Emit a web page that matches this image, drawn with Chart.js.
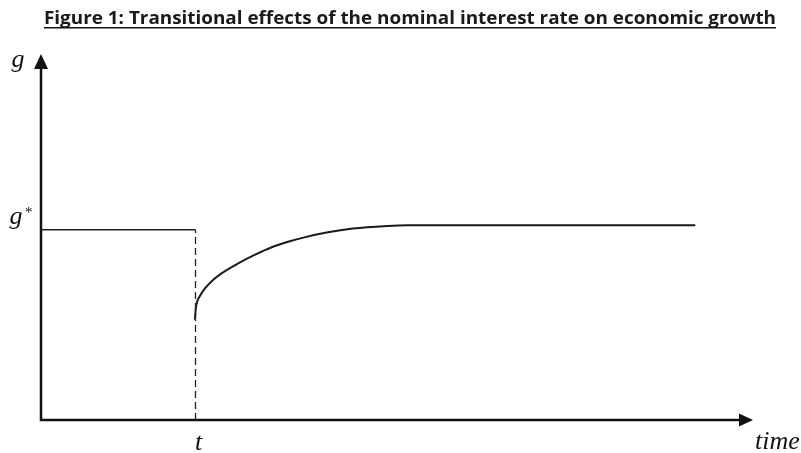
<!DOCTYPE html>
<html>
<head>
<meta charset="utf-8">
<script src="https://cdn.jsdelivr.net/npm/chart.js@4.4.1/dist/chart.umd.min.js"></script>
<style>
  html, body { margin: 0; padding: 0; background: #fff; }
  canvas { display: block; }
</style>
</head>
<body>
<canvas id="growth-chart" width="801" height="453"></canvas>
<script>
// values (time 0-100, growth 0-100)
const titleText = 'Figure 1: Transitional effects of the nominal interest rate on economic growth'
const shockTime = 21.7
const gStar = 52
const preX = [0, shockTime]
const preY = [gStar, gStar]
const shockX = [shockTime, shockTime]
const shockY = [0, gStar]
const pathX = [21.6, 21.8, 22.3, 23.0, 24.2, 25.3, 27.7, 30.0, 32.4, 34.7, 37.0, 40.1, 43.8, 48.6, 51.5, 91.9]
const pathY = [27.4, 31.3, 33.8, 35.9, 38.3, 40.0, 42.8, 45.1, 47.2, 48.7, 49.9, 51.2, 52.3, 53.0, 53.2, 53.2]

const toPoints = (xs, ys) => xs.map((x, i) => ({ x, y: ys[i] }))

const serif = 'italic 26px "Liberation Serif", "DejaVu Serif", serif'

// axes with arrows, the axis labels and the underlined title
const decorations = {
  id: 'decorations',
  afterDraw(chart) {
    const { ctx, scales: { x, y } } = chart
    const x0 = x.getPixelForValue(0)
    const x1 = x.getPixelForValue(100)
    const y0 = y.getPixelForValue(0)
    const y1 = y.getPixelForValue(100)
    ctx.save()
    ctx.strokeStyle = '#111'
    ctx.fillStyle = '#111'
    ctx.lineWidth = 2.5
    ctx.beginPath()
    ctx.moveTo(x0, y1 + 10)
    ctx.lineTo(x0, y0)
    ctx.lineTo(x1 - 10, y0)
    ctx.stroke()
    // arrow heads
    ctx.beginPath()
    ctx.moveTo(x0, y1)
    ctx.lineTo(x0 - 7, y1 + 15)
    ctx.lineTo(x0 + 7, y1 + 15)
    ctx.closePath()
    ctx.fill()
    ctx.beginPath()
    ctx.moveTo(x1, y0)
    ctx.lineTo(x1 - 14, y0 - 6.5)
    ctx.lineTo(x1 - 14, y0 + 6.5)
    ctx.closePath()
    ctx.fill()

    // labels
    ctx.font = serif
    ctx.textBaseline = 'alphabetic'
    ctx.textAlign = 'center'
    ctx.fillText('g', 18, 67)
    ctx.fillText('g', 16, 224)
    ctx.font = 'italic 15px "Liberation Serif", serif'
    ctx.fillText('*', 28, 217)
    ctx.font = serif
    ctx.fillText('t', x.getPixelForValue(shockTime) + 3, 450)
    ctx.textAlign = 'left'
    ctx.fillText('time', 755, 449)

    // title, squeezed to the width of the original
    const left = 44, right = 776
    ctx.font = 'bold 18px "Open Sans", sans-serif'
    const w = ctx.measureText(titleText).width
    ctx.save()
    ctx.translate(left, 24)
    ctx.scale((right - left) / w, 1)
    ctx.fillStyle = '#1a1a1a'
    ctx.fillText(titleText, 0, 0)
    ctx.restore()
    ctx.fillRect(left, 27, right - left, 1.5)
    ctx.restore()
  }
}

new Chart(document.getElementById('growth-chart'), {
  type: 'scatter',
  data: {
    datasets: [
      {
        label: 'before',
        data: toPoints(preX, preY),
        showLine: true,
        borderColor: '#222',
        borderWidth: 1.5,
        pointRadius: 0,
        clip: false
      },
      {
        label: 'shock',
        data: toPoints(shockX, shockY),
        showLine: true,
        borderColor: '#222',
        borderWidth: 1.3,
        borderDash: [7, 4],
        pointRadius: 0,
        clip: false
      },
      {
        label: 'transition',
        data: toPoints(pathX, pathY),
        showLine: true,
        borderColor: '#1a1a1a',
        borderWidth: 2,
        cubicInterpolationMode: 'monotone',
        pointRadius: 0,
        clip: false
      }
    ]
  },
  options: {
    responsive: false,
    animation: false,
    layout: { padding: { left: 41, right: 48, top: 54, bottom: 33 } },
    plugins: {
      legend: { display: false },
      tooltip: { enabled: false }
    },
    scales: {
      x: { type: 'linear', min: 0, max: 100, display: false },
      y: { type: 'linear', min: 0, max: 100, display: false }
    }
  },
  plugins: [decorations]
})
</script>
</body>
</html>
